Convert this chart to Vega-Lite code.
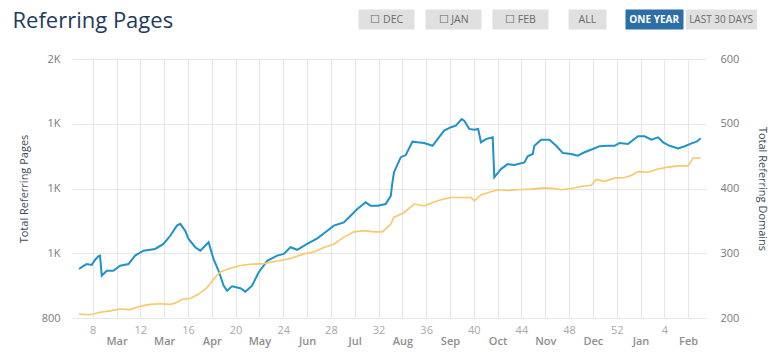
{
  "$schema": "https://vega.github.io/schema/vega-lite/v6.json",
  "width": 776,
  "height": 355,
  "autosize": {"type": "fit", "contains": "padding"},
  "padding": {"left": 12, "top": -27, "right": 8, "bottom": 9},
  "background": "white",
  "config": {"view": {"stroke": null}, "font": "Open Sans"},
  "datasets": {
    "pages": [
      {"week": 6.85, "pages": 1027}, {"week": 7.2, "pages": 1040}, {"week": 7.49, "pages": 1050}, {"week": 7.92, "pages": 1046},
      {"week": 8.2, "pages": 1070}, {"week": 8.47, "pages": 1086}, {"week": 8.61, "pages": 1089}, {"week": 8.76, "pages": 996},
      {"week": 9.18, "pages": 1019}, {"week": 9.73, "pages": 1019}, {"week": 10.3, "pages": 1042}, {"week": 11.0, "pages": 1050},
      {"week": 11.56, "pages": 1089}, {"week": 12.26, "pages": 1112}, {"week": 13.24, "pages": 1120}, {"week": 13.94, "pages": 1143},
      {"week": 14.51, "pages": 1181}, {"week": 15.07, "pages": 1228}, {"week": 15.35, "pages": 1236}, {"week": 15.77, "pages": 1204},
      {"week": 16.05, "pages": 1166}, {"week": 16.61, "pages": 1128}, {"week": 17.03, "pages": 1112}, {"week": 17.73, "pages": 1151},
      {"week": 18.15, "pages": 1073}, {"week": 18.57, "pages": 1019}, {"week": 18.99, "pages": 950}, {"week": 19.28, "pages": 926},
      {"week": 19.7, "pages": 947}, {"week": 20.4, "pages": 938}, {"week": 20.82, "pages": 922}, {"week": 21.38, "pages": 950},
      {"week": 21.94, "pages": 1012}, {"week": 22.65, "pages": 1065}, {"week": 23.49, "pages": 1089}, {"week": 24.04, "pages": 1097},
      {"week": 24.61, "pages": 1128}, {"week": 25.17, "pages": 1116}, {"week": 26.01, "pages": 1143}, {"week": 26.86, "pages": 1169},
      {"week": 27.7, "pages": 1204}, {"week": 28.25, "pages": 1228}, {"week": 29.09, "pages": 1243}, {"week": 29.66, "pages": 1274},
      {"week": 30.22, "pages": 1305}, {"week": 30.92, "pages": 1336}, {"week": 31.34, "pages": 1320}, {"week": 31.91, "pages": 1320},
      {"week": 32.6, "pages": 1328}, {"week": 33.03, "pages": 1366}, {"week": 33.17, "pages": 1429}, {"week": 33.3, "pages": 1475},
      {"week": 33.87, "pages": 1545}, {"week": 34.29, "pages": 1555}, {"week": 34.85, "pages": 1617}, {"week": 35.27, "pages": 1614},
      {"week": 35.83, "pages": 1611}, {"week": 36.54, "pages": 1598}, {"week": 36.96, "pages": 1629}, {"week": 37.51, "pages": 1668},
      {"week": 38.08, "pages": 1684}, {"week": 38.5, "pages": 1691}, {"week": 38.98, "pages": 1722}, {"week": 39.2, "pages": 1714},
      {"week": 39.62, "pages": 1676}, {"week": 40.04, "pages": 1672}, {"week": 40.37, "pages": 1676}, {"week": 40.6, "pages": 1614},
      {"week": 41.02, "pages": 1629}, {"week": 41.59, "pages": 1637}, {"week": 41.72, "pages": 1452}, {"week": 42.28, "pages": 1490},
      {"week": 42.85, "pages": 1513}, {"week": 43.4, "pages": 1509}, {"week": 44.25, "pages": 1521}, {"week": 44.53, "pages": 1549},
      {"week": 44.95, "pages": 1560}, {"week": 45.09, "pages": 1598}, {"week": 45.65, "pages": 1626}, {"week": 46.35, "pages": 1626},
      {"week": 46.92, "pages": 1598}, {"week": 47.48, "pages": 1564}, {"week": 48.18, "pages": 1560}, {"week": 48.74, "pages": 1552},
      {"week": 49.3, "pages": 1568}, {"week": 50.0, "pages": 1583}, {"week": 50.56, "pages": 1596}, {"week": 51.27, "pages": 1598},
      {"week": 51.82, "pages": 1598}, {"week": 52.24, "pages": 1611}, {"week": 52.95, "pages": 1606}, {"week": 53.79, "pages": 1642},
      {"week": 54.35, "pages": 1642}, {"week": 54.91, "pages": 1626}, {"week": 55.47, "pages": 1637}, {"week": 55.9, "pages": 1614},
      {"week": 56.45, "pages": 1598}, {"week": 57.16, "pages": 1586}, {"week": 57.72, "pages": 1596}, {"week": 58.28, "pages": 1609},
      {"week": 58.71, "pages": 1617}, {"week": 59.06, "pages": 1633}
    ],
    "domains": [
      {"week": 6.85, "domains": 206}, {"week": 7.77, "domains": 205}, {"week": 8.61, "domains": 209}, {"week": 9.46, "domains": 211},
      {"week": 10.3, "domains": 214}, {"week": 11.14, "domains": 213}, {"week": 11.98, "domains": 218}, {"week": 12.82, "domains": 221},
      {"week": 13.67, "domains": 222}, {"week": 14.51, "domains": 221}, {"week": 15.07, "domains": 224}, {"week": 15.49, "domains": 229},
      {"week": 16.19, "domains": 230}, {"week": 16.89, "domains": 237}, {"week": 17.6, "domains": 247}, {"week": 18.15, "domains": 260},
      {"week": 18.72, "domains": 271}, {"week": 19.56, "domains": 277}, {"week": 20.4, "domains": 281}, {"week": 21.24, "domains": 283},
      {"week": 22.36, "domains": 284}, {"week": 23.49, "domains": 288}, {"week": 24.61, "domains": 292}, {"week": 25.73, "domains": 299},
      {"week": 26.57, "domains": 302}, {"week": 27.41, "domains": 309}, {"week": 28.25, "domains": 314}, {"week": 29.09, "domains": 325},
      {"week": 29.94, "domains": 333}, {"week": 30.78, "domains": 335}, {"week": 31.62, "domains": 333}, {"week": 32.33, "domains": 333},
      {"week": 32.75, "domains": 340}, {"week": 33.03, "domains": 345}, {"week": 33.3, "domains": 356}, {"week": 33.59, "domains": 358},
      {"week": 34.15, "domains": 363}, {"week": 34.99, "domains": 376}, {"week": 35.83, "domains": 373}, {"week": 36.67, "domains": 379},
      {"week": 37.51, "domains": 384}, {"week": 38.08, "domains": 386}, {"week": 39.2, "domains": 386}, {"week": 39.76, "domains": 386},
      {"week": 40.04, "domains": 381}, {"week": 40.6, "domains": 390}, {"week": 41.44, "domains": 395}, {"week": 42.01, "domains": 398},
      {"week": 42.85, "domains": 397}, {"week": 43.69, "domains": 398}, {"week": 44.81, "domains": 399}, {"week": 45.93, "domains": 401},
      {"week": 46.77, "domains": 400}, {"week": 47.34, "domains": 398}, {"week": 48.18, "domains": 400}, {"week": 49.02, "domains": 403},
      {"week": 49.86, "domains": 405}, {"week": 50.28, "domains": 414}, {"week": 50.98, "domains": 411}, {"week": 51.82, "domains": 416},
      {"week": 52.66, "domains": 417}, {"week": 53.23, "domains": 420}, {"week": 53.79, "domains": 426}, {"week": 54.63, "domains": 425},
      {"week": 55.47, "domains": 430}, {"week": 56.32, "domains": 433}, {"week": 57.16, "domains": 435}, {"week": 58.0, "domains": 435},
      {"week": 58.42, "domains": 447}, {"week": 59.06, "domains": 447}
    ],
    "buttons": [
      {"button": "DEC"}, {"button": "JAN"}, {"button": "FEB"}, {"button": "ALL"}, {"button": "ONE YEAR"}, {"button": "LAST 30 DAYS"}
    ]
  },
  "layer": [
    {
      "data": {"name": "pages"},
      "mark": {"type": "line", "color": "#1f93c8", "strokeWidth": 2},
      "encoding": {
        "x": {
          "field": "week", "type": "quantitative",
          "scale": {"domain": [6.26, 59.5], "nice": false, "zero": false},
          "axis": {
            "title": null,
            "values": [8, 10, 12, 14, 16, 18, 20, 22, 24, 26, 28, 30, 32, 34, 36, 38, 40, 42, 44, 46, 48, 50, 52, 54, 56, 58],
            "labelExpr": "datum.value % 4 == 0 ? (datum.value > 52 ? '' + (datum.value - 52) : '' + datum.value) : ['Mar','Mar','Apr','May','Jun','Jul','Aug','Sep','Oct','Nov','Dec','Jan','Feb'][(datum.value - 10) / 4]",
            "grid": true, "gridColor": "#e6e6e6", "domain": false, "ticks": false,
            "labelFontSize": 11, "labelFlush": false, "labelOverlap": false, "labelBaseline": "top",
            "labelPadding": {"condition": {"test": "datum.value % 4 == 0", "value": 6}, "value": 17},
            "labelColor": {"condition": {"test": "datum.value % 4 == 0", "value": "#a8a8a8"}, "value": "#8e8e8e"},
            "labelFontWeight": {"condition": {"test": "datum.value % 4 == 0", "value": "normal"}, "value": 600}
          }
        },
        "y": {
          "field": "pages", "type": "quantitative",
          "scale": {"domain": [800, 2000], "nice": false, "zero": false},
          "axis": {
            "title": "Total Referring Pages",
            "values": [800, 1100, 1400, 1700, 2000],
            "labelExpr": "datum.value < 1000 ? '' + datum.value : floor(datum.value / 1000) + 'K'",
            "grid": true, "gridColor": "#e6e6e6", "domain": false, "ticks": false,
            "labelPadding": 12, "labelColor": "#7a7a7a", "labelFontSize": 11,
            "titleFontSize": 11, "titleFontWeight": "normal", "titleColor": "#3c4d5c", "titlePadding": 12
          }
        }
      }
    },
    {
      "data": {"name": "domains"},
      "mark": {"type": "line", "color": "#f7c86c", "strokeWidth": 1.6},
      "encoding": {
        "x": {
          "field": "week", "type": "quantitative",
          "scale": {"domain": [6.26, 59.5], "nice": false, "zero": false},
          "axis": null
        },
        "y": {
          "field": "domains", "type": "quantitative",
          "scale": {"domain": [200, 600], "nice": false, "zero": false},
          "axis": {
            "orient": "right",
            "title": "Total Referring Domains",
            "values": [200, 300, 400, 500, 600],
            "grid": false, "domain": false, "ticks": false,
            "labelPadding": 14, "labelColor": "#7a7a7a", "labelFontSize": 11,
            "titleFontSize": 11, "titleFontWeight": "normal", "titleColor": "#3c4d5c", "titlePadding": 18
          }
        }
      }
    },
    {
      "data": {"name": "buttons"},
      "mark": {"type": "text", "opacity": 0},
      "encoding": {
        "text": {"field": "button"},
        "x": {
          "field": "button", "type": "nominal",
          "scale": {"type": "band", "domain": ["pad1", "pad2", "DEC", "JAN", "FEB", "ALL", "ONE YEAR", "LAST 30 DAYS"], "paddingInner": 0, "paddingOuter": 0.74, "align": 1},
          "axis": {
            "orient": "top", "offset": 30, "domain": false, "grid": false,
            "title": "Referring Pages", "titleX": -60, "titleY": -2, "titleAlign": "left", "titleAnchor": "start",
            "titleBaseline": "alphabetic", "titleAngle": 0, "titleFontSize": 22, "titleFontWeight": "normal",
            "titleColor": "#1f3a5c", "titleFont": "Open Sans",
            "values": ["DEC", "JAN", "FEB", "ALL", "ONE YEAR", "LAST 30 DAYS"],
            "ticks": true, "tickSize": 20, "tickBand": "center", "tickOffset": 48,
            "tickWidth": {"condition": [
              {"test": "datum.value == 'ONE YEAR'", "value": 58},
              {"test": "datum.value == 'LAST 30 DAYS'", "value": 71},
              {"test": "datum.value == 'ALL'", "value": 38}
            ], "value": 56},
            "tickColor": {"condition": {"test": "datum.value == 'ONE YEAR'", "value": "#2c6fa6"}, "value": "#e0e0e0"},
            "labelPadding": -10, "labelBaseline": "middle", "labelAngle": 0,
            "labelFontSize": {"condition": {"test": "datum.value == 'ONE YEAR' || datum.value == 'LAST 30 DAYS'", "value": 10}, "value": 10.5},
            "labelOverlap": false, "labelFlush": false,
            "labelExpr": "(datum.value == 'DEC' || datum.value == 'JAN' || datum.value == 'FEB') ? '☐  ' + datum.value : datum.value",
            "labelColor": {"condition": {"test": "datum.value == 'ONE YEAR'", "value": "#ffffff"}, "value": "#6a6a6a"},
            "labelFontWeight": {"condition": {"test": "datum.value == 'ONE YEAR'", "value": "bold"}, "value": "normal"}
          }
        }
      }
    }
  ],
  "resolve": {"scale": {"x": "independent", "y": "independent"}}
}
